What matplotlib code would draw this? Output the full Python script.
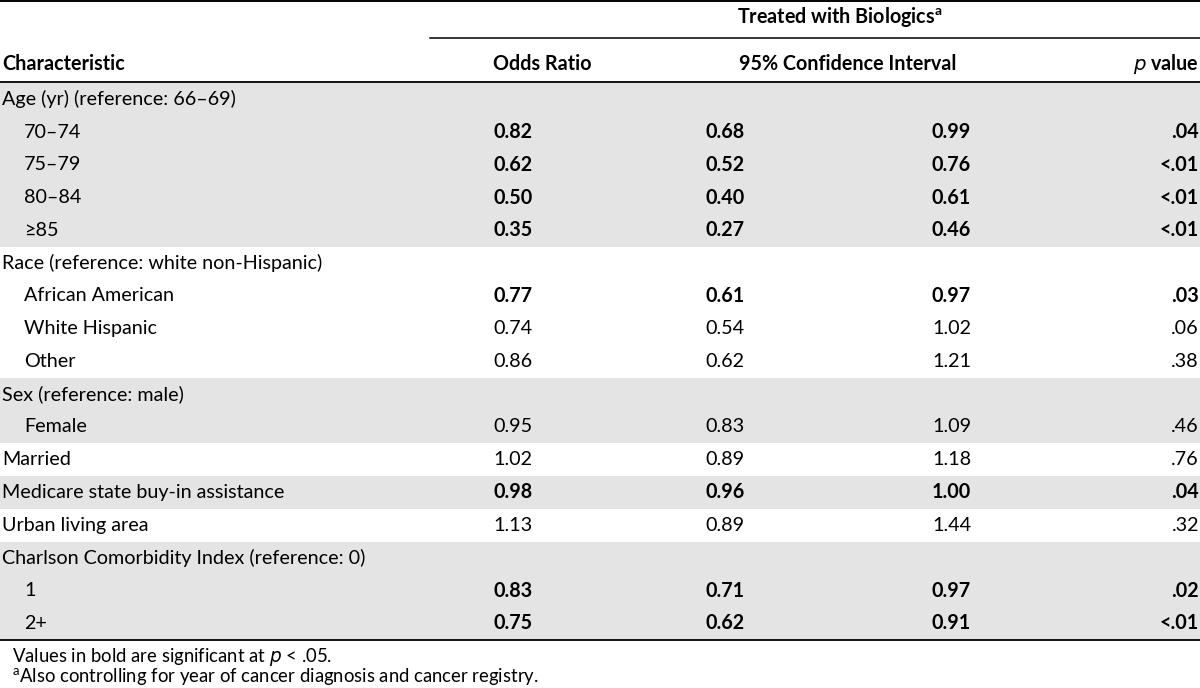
import matplotlib
matplotlib.use("Agg")
import matplotlib.pyplot as plt

plt.rcParams['font.family'] = ['Lato', 'DejaVu Sans']

labels = ["Age (yr) (reference: 66\u201369)", "70\u201374", "75\u201379", "80\u201384", "\u226585",
          "Race (reference: white non-Hispanic)", "African American", "White Hispanic", "Other",
          "Sex (reference: male)", "Female", "Married", "Medicare state buy-in assistance",
          "Urban living area", "Charlson Comorbidity Index (reference: 0)", "1", "2+"]
indent = [0, 1, 1, 1, 1, 0, 1, 1, 1, 0, 1, 0, 0, 0, 0, 1, 1]
odds = ["", "0.82", "0.62", "0.50", "0.35", "", "0.77", "0.74", "0.86", "", "0.95", "1.02", "0.98", "1.13", "", "0.83", "0.75"]
ci_low = ["", "0.68", "0.52", "0.40", "0.27", "", "0.61", "0.54", "0.62", "", "0.83", "0.89", "0.96", "0.89", "", "0.71", "0.62"]
ci_high = ["", "0.99", "0.76", "0.61", "0.46", "", "0.97", "1.02", "1.21", "", "1.09", "1.18", "1.00", "1.44", "", "0.97", "0.91"]
pvals = ["", ".04", "<.01", "<.01", "<.01", "", ".03", ".06", ".38", "", ".46", ".76", ".04", ".32", "", ".02", "<.01"]
bold = [0, 1, 1, 1, 1, 0, 1, 0, 0, 0, 0, 0, 1, 0, 0, 1, 1]
shaded = [1, 1, 1, 1, 1, 0, 0, 0, 0, 1, 1, 0, 1, 0, 1, 1, 1]

W, H = 1200, 688
fig = plt.figure(figsize=(12, 6.88), dpi=100)
ax = fig.add_axes([0, 0, 1, 1])
ax.set_xlim(0, W)
ax.set_ylim(H, 0)
ax.axis('off')

fs = 14.2
row_top = 83
row_h = 32.75
gray = '#e4e4e4'

for i, lab in enumerate(labels):
    y0 = row_top + i * row_h
    yc = y0 + row_h / 2
    if shaded[i]:
        ax.add_patch(plt.Rectangle((0, y0), W, row_h, facecolor=gray, edgecolor='none', zorder=0))
    ax.text(2 + 22 * indent[i], yc, lab, fontsize=fs, va='center', ha='left')
    w = 'bold' if bold[i] else 'normal'
    ax.text(493, yc, odds[i], fontsize=fs, va='center', ha='left', fontweight=w)
    ax.text(705, yc, ci_low[i], fontsize=fs, va='center', ha='left', fontweight=w)
    ax.text(932, yc, ci_high[i], fontsize=fs, va='center', ha='left', fontweight=w)
    ax.text(1199, yc, pvals[i], fontsize=fs, va='center', ha='right', fontweight=w)

bottom = row_top + len(labels) * row_h

# rules
ax.plot([0, W], [1.2, 1.2], color='black', lw=1.4)
ax.plot([430, W], [38, 38], color='black', lw=1.1)
ax.plot([0, W], [82, 82], color='black', lw=1.3)
ax.plot([0, W], [bottom, bottom], color='black', lw=1.3)

# headers
ax.text(840, 17, "Treated with Biologics$^{\\mathregular{a}}$", fontsize=fs, va='center', ha='center', fontweight='bold')
ax.text(2, 64, "Characteristic", fontsize=fs, va='center', ha='left', fontweight='bold')
ax.text(493, 64, "Odds Ratio", fontsize=fs, va='center', ha='left', fontweight='bold')
ax.text(848, 64, "95% Confidence Interval", fontsize=fs, va='center', ha='center', fontweight='bold')
ax.text(1199, 64, "$\\mathbf{\\mathit{p}}$ value", fontsize=fs, va='center', ha='right', fontweight='bold')

# footnotes
ax.text(12, 657, "Values in bold are significant at $\\mathit{p}$ < .05.", fontsize=fs * 0.94, va='center', ha='left')
ax.text(12, 677, "$^{\\mathregular{a}}$Also controlling for year of cancer diagnosis and cancer registry.", fontsize=fs * 0.94, va='center', ha='left')

fig.savefig("out.png", dpi=100)
